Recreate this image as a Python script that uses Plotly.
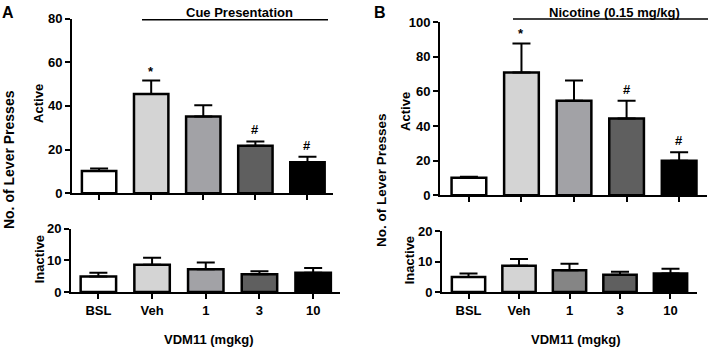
import plotly.graph_objects as go

categories = ["BSL", "Veh", "1", "3", "10"]
colors_main = ["#ffffff", "#d4d4d4", "#a2a2a6", "#5f5f5f", "#000000"]
colors_b_inactive = ["#ffffff", "#d4d4d4", "#858585", "#5f5f5f", "#000000"]

a_active = [10.2, 45.4, 35.1, 21.7, 14.2]
a_active_err = [1.1, 6.2, 5.2, 2.0, 2.5]
a_inactive = [4.9, 8.6, 7.2, 5.6, 6.1]
a_inactive_err = [1.2, 2.2, 2.1, 1.0, 1.5]

b_active = [10.0, 71.0, 54.6, 44.3, 19.9]
b_active_err = [0.6, 16.8, 11.7, 10.3, 4.9]
b_inactive = [5.0, 8.7, 7.2, 5.7, 6.1]
b_inactive_err = [1.1, 2.2, 2.1, 1.0, 1.6]

a_marks = ["", "*", "", "#", "#"]
b_marks = ["", "*", "", "#", "#"]

FONT = "Liberation Sans, Arial, sans-serif"
W, H = 708, 355
pos = list(range(len(categories)))

# the capture squeezes the page slightly in height; vertical layout positions
# are pre-compensated so the photographed result lines up with the target
Y_OFF, Y_SCALE = 7.4, 0.955


def px_x(p):
    return p / W


def px_y(p, lo=None, hi=None):
    v = (p - Y_OFF) / Y_SCALE
    if lo is not None:
        v = max(v, lo)
    if hi is not None:
        v = min(v, hi)
    return 1 - v / H


fig = go.Figure()


def add_bars(vals, errs, cols, xa, ya):
    fig.add_trace(go.Bar(
        x=pos, y=vals, xaxis=xa, yaxis=ya,
        width=0.66,
        marker=dict(color=cols, line=dict(color="black", width=2.5)),
        error_y=dict(type="data", symmetric=False, array=errs,
                     arrayminus=[0] * len(errs), color="black",
                     thickness=2, width=9),
        cliponaxis=False, showlegend=False, hoverinfo="skip",
    ))


add_bars(a_active, a_active_err, colors_main, "x", "y")
add_bars(a_inactive, a_inactive_err, colors_main, "x2", "y2")
add_bars(b_active, b_active_err, colors_main, "x3", "y3")
add_bars(b_inactive, b_inactive_err, colors_b_inactive, "x4", "y4")

tickfont = dict(family=FONT, size=13, color="black", weight="bold")


def xax(domain, rng, anchor, labels):
    return dict(domain=domain, range=rng, anchor=anchor,
                tickmode="array", tickvals=pos, ticktext=categories,
                showline=True, linecolor="black", linewidth=2,
                ticks="outside", ticklen=5, tickwidth=2, tickcolor="black",
                showticklabels=labels, tickfont=tickfont, showgrid=False,
                zeroline=False, fixedrange=True)


def yax(domain, rng, dtick, anchor):
    return dict(domain=domain, range=rng, anchor=anchor, dtick=dtick,
                showline=True, linecolor="black", linewidth=2,
                ticks="outside", ticklen=5, tickwidth=2, tickcolor="black",
                tickfont=tickfont, showgrid=False, zeroline=False,
                fixedrange=True)


fig.update_layout(
    width=W, height=H,
    margin=dict(l=0, r=0, t=0, b=0),
    paper_bgcolor="white", plot_bgcolor="white",
    font=dict(family=FONT, color="black"),
    xaxis=xax([px_x(72), px_x(333)], [-0.52, 4.49], "y", False),
    yaxis=yax([px_y(193), px_y(19)], [0, 80], 20, "x"),
    xaxis2=xax([px_x(71), px_x(340)], [-0.51, 4.50], "y2", True),
    yaxis2=yax([px_y(291.7), px_y(228.3)], [0, 20], 10, "x2"),
    xaxis3=xax([px_x(440), px_x(707)], [-0.55, 4.53], "y3", False),
    yaxis3=yax([px_y(195), px_y(22.7)], [0, 100], 20, "x3"),
    xaxis4=xax([px_x(442), px_x(697)], [-0.525, 4.525], "y4", True),
    yaxis4=yax([px_y(291.7), px_y(231)], [0, 20], 10, "x4"),
)

ann = []
bold13 = dict(family=FONT, size=13, color="black", weight="bold")


def marks(vals, errs, labels, xa, ya):
    for p, v, e, m in zip(pos, vals, errs, labels):
        if m:
            ann.append(dict(x=p, y=v + e, xref=xa, yref=ya, text=m,
                            showarrow=False, yanchor="bottom",
                            yshift=0 if m == "*" else 2, font=bold13))


marks(a_active, a_active_err, a_marks, "x", "y")
marks(b_active, b_active_err, b_marks, "x3", "y3")


def text(x, y, t, size=13, angle=0, lo=None, hi=None):
    ann.append(dict(x=px_x(x), y=px_y(y, lo, hi), xref="paper", yref="paper",
                    text=t, showarrow=False, xanchor="center",
                    yanchor="middle", textangle=angle,
                    font=dict(family=FONT, size=size, color="black",
                              weight="bold")))


# panel letters
text(8, 9, "A", size=16, lo=6)
text(380, 9, "B", size=16, lo=6)
# group headers
text(239, 9, "Cue Presentation", lo=5.5)
text(614, 8, "Nicotine (0.15 mg/kg)", lo=5.5)
# axis titles
text(9, 160, "No. of Lever Presses", size=14, angle=-90)
text(39, 104, "Active", angle=-90)
text(39, 259, "Inactive", angle=-90)
text(381, 180, "No. of Lever Presses", size=13.5, angle=-90)
text(406, 112, "Active", angle=-90)
text(409, 260, "Inactive", angle=-90)
text(209, 346, "VDM11 (mgkg)", hi=347)
text(576, 345, "VDM11 (mgkg)", hi=347)

fig.update_layout(annotations=ann)

fig.add_shape(type="line", xref="paper", yref="paper",
              x0=px_x(142), x1=px_x(328), y0=px_y(20), y1=px_y(20),
              line=dict(color="black", width=1.5))
fig.add_shape(type="line", xref="paper", yref="paper",
              x0=px_x(513), x1=px_x(708), y0=px_y(19.3), y1=px_y(19.3),
              line=dict(color="black", width=1.5))

reset_page = (
    "var d=document.documentElement,b=document.body;"
    "d.style.margin='0';d.style.padding='0';d.style.overflow='hidden';"
    "b.style.margin='0';b.style.padding='0';b.style.overflow='hidden';"
    "b.style.height='355px';window.scrollTo(0,0);"
)

fig.write_html("out.html", config={"displayModeBar": False, "staticPlot": True},
               post_script=reset_page)
